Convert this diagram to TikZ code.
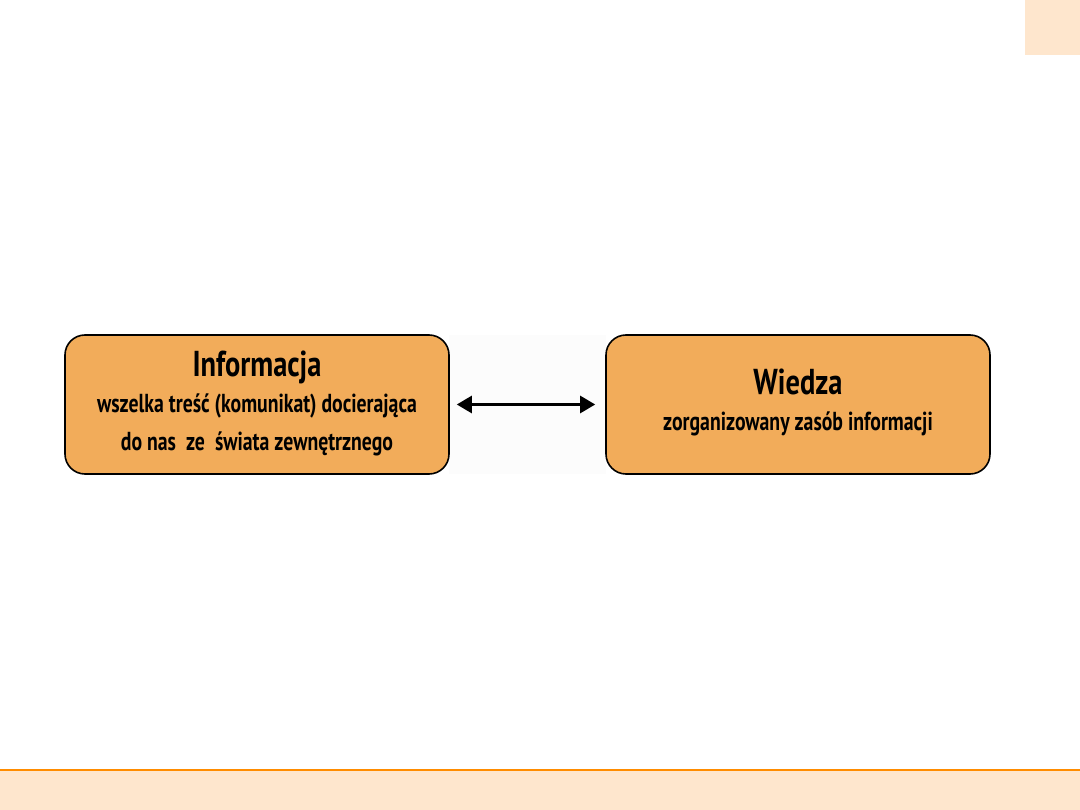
\documentclass[tikz,border=0pt]{standalone}
\usepackage{fontspec}
\newfontfamily\condfont[FakeStretch=0.76]{PT Sans}
\newfontfamily\titlefont[FakeStretch=0.79]{PT Sans}
\usetikzlibrary{arrows.meta}
\definecolor{boxfill}{HTML}{F2AC5A}
\definecolor{band}{HTML}{FEE6CD}
\definecolor{bandline}{HTML}{FF8C00}
\tikzset{
  conceptbox/.style={draw=black, line width=1.6pt, fill=boxfill, rounded corners=20pt,
    minimum width=384pt, minimum height=139pt, inner sep=0pt},
  titletext/.style={font=\titlefont\bfseries\fontsize{36}{36}\selectfont, anchor=base, inner sep=0pt},
  subtext/.style={font=\condfont\bfseries\fontsize{26}{26}\selectfont, anchor=base, inner sep=0pt},
  linkarrow/.style={line width=2.6pt, {Triangle[length=15pt,width=17pt]}-{Triangle[length=15pt,width=17pt]}}
}
\begin{document}
\begin{tikzpicture}[x=1pt,y=-1pt]
\useasboundingbox (0,0) rectangle (1080,810);
\fill[white] (0,0) rectangle (1080,810);
% decorations
\fill[band] (1025,0) rectangle (1080,55);
\fill[band] (0,770) rectangle (1080,810);
\draw[bandline, line width=1.3pt] (0,770) -- (1080,770);
\fill[black!1] (449,335) rectangle (606,474);
% boxes
\node[conceptbox] (info) at (257,404.5) {};
\node[conceptbox] (wiedza) at (798,404.5) {};
% texts
\node[titletext] (infot) at (257,377) {Informacja};
\node[subtext] (info1) at (257,413) {wszelka treść (komunikat) docierająca};
\node[subtext] (info2) at (257,450) {do nas\ \ ze\ \ świata zewnętrznego};
\node[titletext] (wiedzat) at (798,395) {Wiedza};
\node[subtext] (wiedza1) at (798,431) {zorganizowany zasób informacji};
% connector
\draw[linkarrow, shorten <=7pt, shorten >=10pt] (info.east) -- (wiedza.west);
\end{tikzpicture}
\end{document}
